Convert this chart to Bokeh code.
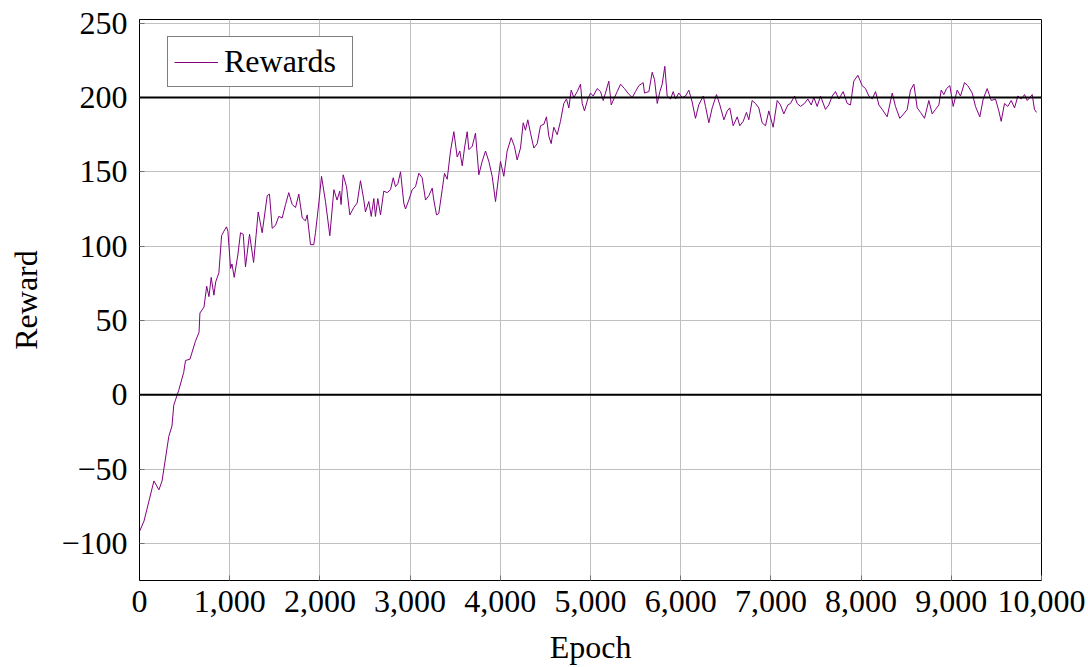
from bokeh.plotting import figure
from bokeh.models import Span, Legend, LegendItem, FixedTicker, ColumnDataSource
from bokeh.embed import file_html
from bokeh.resources import INLINE

epochs = [0, 50, 160, 215, 250, 325, 360, 380, 435, 490, 510, 560, 620, 660, 670, 715, 745, 770, 795, 825,
          845, 880, 910, 935, 965, 980, 1010, 1025, 1050, 1090, 1120, 1150, 1175, 1220, 1265, 1316, 1360, 1416, 1441, 1471,
          1508, 1544, 1582, 1619, 1655, 1693, 1730, 1766, 1804, 1840, 1859, 1896, 1932, 1951, 1988, 2018, 2062, 2110, 2155, 2190,
          2220, 2235, 2258, 2295, 2332, 2376, 2413, 2450, 2487, 2505, 2542, 2569, 2598, 2616, 2642, 2672, 2708, 2746, 2783, 2813,
          2838, 2864, 2894, 2930, 2949, 2986, 3023, 3060, 3097, 3134, 3171, 3208, 3245, 3263, 3293, 3318, 3356, 3381, 3411, 3448,
          3485, 3522, 3551, 3578, 3603, 3633, 3651, 3688, 3725, 3762, 3799, 3836, 3873, 3910, 3947, 4002, 4039, 4076, 4121, 4157,
          4187, 4224, 4254, 4279, 4305, 4335, 4372, 4409, 4446, 4483, 4512, 4538, 4564, 4593, 4631, 4667, 4704, 4734, 4760, 4786,
          4815, 4853, 4889, 4908, 4933, 4970, 5000, 5030, 5074, 5111, 5141, 5166, 5203, 5230, 5266, 5296, 5333, 5377, 5414, 5462,
          5499, 5536, 5584, 5599, 5647, 5684, 5710, 5740, 5769, 5795, 5824, 5850, 5887, 5917, 5942, 5979, 6017, 6053, 6090, 6127,
          6164, 6200, 6250, 6275, 6312, 6349, 6397, 6434, 6479, 6516, 6544, 6582, 6627, 6655, 6693, 6729, 6755, 6792, 6829, 6866,
          6903, 6940, 6977, 7025, 7070, 7106, 7143, 7188, 7217, 7262, 7291, 7328, 7372, 7409, 7447, 7476, 7513, 7550, 7605, 7642,
          7680, 7716, 7753, 7801, 7846, 7882, 7919, 7964, 8012, 8049, 8086, 8123, 8160, 8197, 8234, 8289, 8345, 8381, 8429, 8473,
          8511, 8548, 8585, 8622, 8659, 8703, 8751, 8788, 8825, 8862, 8888, 8917, 8947, 8984, 9021, 9065, 9102, 9146, 9183, 9232,
          9268, 9316, 9354, 9398, 9443, 9490, 9527, 9553, 9590, 9627, 9664, 9701, 9738, 9776, 9812, 9842, 9871, 9897, 9922, 9945]

rewards = [-92, -85, -58, -64, -58, -28, -21, -7, 3, 15, 23, 24, 36, 42, 55, 59, 73, 66, 79, 67,
           76, 82, 107, 110, 113, 110, 85, 88, 79, 94, 109, 108, 86, 108, 89, 123, 109, 134, 135, 112,
           114, 120, 119, 128, 136, 128, 126, 135, 119, 117, 121, 101, 101, 109, 129, 147, 130, 107, 138, 131,
           137, 128, 148, 140, 121, 126, 129, 144, 131, 123, 130, 120, 132, 120, 132, 121, 137, 136, 138, 146,
           140, 142, 150, 129, 125, 131, 138, 140, 149, 146, 131, 134, 139, 131, 121, 122, 138, 149, 145, 164,
           177, 160, 164, 154, 166, 177, 165, 167, 176, 148, 157, 164, 157, 147, 130, 157, 147, 164, 173, 167,
           158, 166, 183, 178, 185, 176, 166, 169, 181, 182, 187, 174, 169, 180, 175, 184, 196, 199, 193, 205,
           200, 204, 209, 196, 191, 199, 203, 201, 206, 204, 198, 203, 211, 195, 200, 204, 209, 206, 203, 200,
           204, 208, 210, 203, 204, 217, 212, 196, 204, 209, 221, 201, 199, 204, 199, 203, 200, 201, 205, 197,
           186, 195, 201, 194, 183, 193, 202, 195, 185, 191, 193, 181, 187, 181, 184, 190, 185, 198, 196, 193,
           183, 181, 191, 180, 198, 195, 189, 195, 196, 201, 196, 194, 196, 199, 195, 200, 194, 201, 192, 195,
           201, 204, 199, 204, 196, 195, 211, 215, 208, 206, 201, 199, 204, 195, 192, 187, 203, 194, 186, 189,
           192, 205, 209, 193, 190, 186, 198, 189, 192, 195, 205, 202, 206, 208, 194, 205, 201, 210, 208, 203,
           194, 187, 199, 206, 198, 199, 191, 184, 196, 194, 198, 193, 201, 199, 202, 198, 200, 202, 192, 190]

x_ticks = [0, 1000, 2000, 3000, 4000, 5000, 6000, 7000, 8000, 9000, 10000]
x_tick_labels = ["0", "1,000", "2,000", "3,000", "4,000", "5,000", "6,000", "7,000", "8,000", "9,000", "10,000"]
y_ticks = [-100, -50, 0, 50, 100, 150, 200, 250]
y_tick_labels = ["\u2212100", "\u221250", "0", "50", "100", "150", "200", "250"]
ref_lines = [0, 200]

FONT = "Liberation Serif"
FS = "32px"

p = figure(width=1088, height=667, output_backend="svg", toolbar_location=None,
           x_range=(0, 10000), y_range=(-125, 252.5),
           min_border_left=139, min_border_right=47, min_border_top=19, min_border_bottom=87)
p.outline_line_color = "black"
p.outline_line_width = 1
p.background_fill_color = "white"
p.border_fill_color = "white"

for r in ref_lines:
    p.add_layout(Span(location=r, dimension="width", line_color="black", line_width=2))

src = ColumnDataSource(dict(x=epochs, y=rewards))
line = p.line("x", "y", source=src, line_color="#800080", line_width=1)

p.xaxis.ticker = FixedTicker(ticks=x_ticks)
p.yaxis.ticker = FixedTicker(ticks=y_ticks)
p.xaxis.major_label_overrides = {t: l for t, l in zip(x_ticks, x_tick_labels)}
p.yaxis.major_label_overrides = {t: l for t, l in zip(y_ticks, y_tick_labels)}

for ax in (p.xaxis, p.yaxis):
    ax.major_label_text_font = FONT
    ax.major_label_text_font_size = FS
    ax.major_label_text_color = "black"
    ax.axis_label_text_font = FONT
    ax.axis_label_text_font_size = FS
    ax.axis_label_text_font_style = "normal"
    ax.axis_label_text_color = "black"
    ax.axis_line_color = "black"
    ax.major_tick_in = 5
    ax.major_tick_out = 0
    ax.major_tick_line_color = "#707070"
    ax.minor_tick_line_color = None

p.xaxis.major_label_standoff = 10
p.yaxis.major_label_standoff = 12
p.xaxis.axis_label = "Epoch"
p.yaxis.axis_label = "Reward"
p.xaxis.axis_label_standoff = 14
p.yaxis.axis_label_standoff = 14

p.xgrid.grid_line_color = "#c0c0c0"
p.ygrid.grid_line_color = "#c0c0c0"
p.xgrid.grid_line_width = 1
p.ygrid.grid_line_width = 1

legend = Legend(items=[LegendItem(label="Rewards", renderers=[line])], location=(28, 493))
legend.label_text_font = FONT
legend.label_text_font_size = FS
legend.label_text_color = "black"
legend.glyph_width = 44
legend.glyph_height = 22
legend.label_standoff = 6
legend.label_width = 122
legend.padding = 6
legend.spacing = 0
legend.border_line_color = "black"
legend.border_line_width = 1
legend.background_fill_alpha = 1
p.add_layout(legend)

open("out.html", "w").write(file_html(p, INLINE))
